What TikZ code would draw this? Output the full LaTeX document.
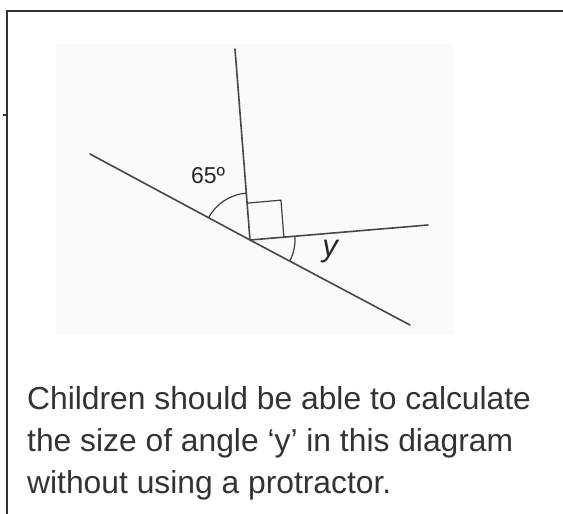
\documentclass[tikz,border=0pt]{standalone}
\usepackage{fontspec}
\setmainfont{Liberation Sans}
\usetikzlibrary{calc}

\begin{document}
\begin{tikzpicture}[
  x=1pt, y=-1pt,
  frame/.style={draw=black!80, line width=1.3pt},
  ray/.style={draw=black!72, line width=1.6pt, line cap=round},
  anglemark/.style={draw=black!75, line width=1.2pt},
  lbl/.style={font=\fontsize{23}{23}\selectfont, text=black!85},
  caption/.style={font=\fontsize{31.8}{42}\selectfont, text=black!80, align=left, inner sep=0pt},
]
\useasboundingbox (0,0) rectangle (563,514);

% === FRAME ===
\draw[frame] (7,514) -- (7,11) -- (564,11);
\draw[frame] (3,115) -- (7,115);

% === PICTURE AREA ===
\fill[black!2] (56,44) rectangle (454,335);

% === ANGLE DIAGRAM ===
\coordinate (O) at (250,240);
\coordinate (A) at (90,154);
\coordinate (B) at (410,325);
\coordinate (C) at (235,49);
\coordinate (D) at (428,225);

\draw[ray] (A) -- (O) -- (B);
\draw[ray] (O) -- (C);
\draw[ray] (O) -- (D);

% right angle box
\coordinate (sq1) at ($(O)+(5:34pt)$);
\coordinate (sq3) at ($(O)+(94.5:37pt)$);
\draw[anglemark] (sq1) -- ($(sq1)+(94.5:37pt)$) -- (sq3);

% angle arcs
\draw[anglemark] ($(O)+(152:47pt)$) arc[start angle=152, end angle=94.5, radius=47pt];
\draw[anglemark] ($(O)+(5:45pt)$) arc[start angle=5, end angle=-28, radius=45pt];

\node[lbl] (a65) at (208,176) {65º};
\node[lbl, font=\fontsize{31}{31}\selectfont\itshape] (ay) at (330,252) {y};

% === CAPTION ===
\node[caption, anchor=base west] (note) at (27,493)
  {Children should be able to calculate\\the size of angle ‘y’ in this diagram\\without using a protractor.};
\end{tikzpicture}
\end{document}
